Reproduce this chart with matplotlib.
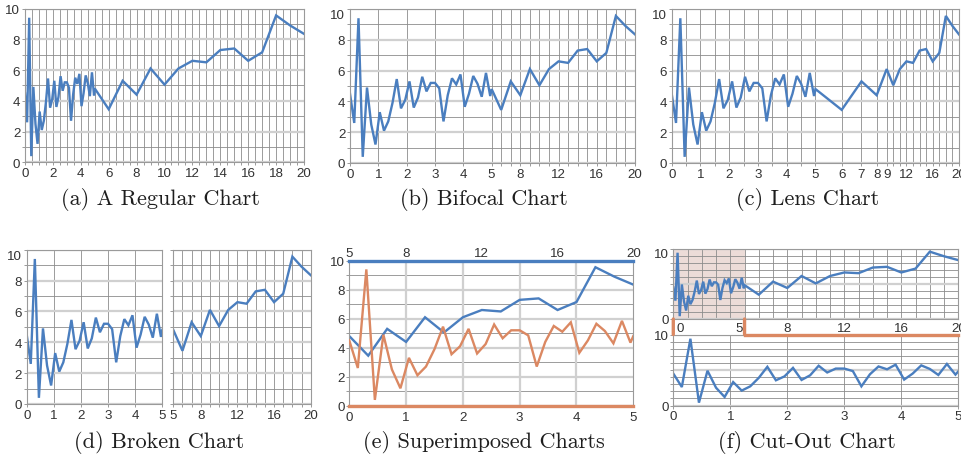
import numpy as np
import matplotlib
matplotlib.use('Agg')
import matplotlib.pyplot as plt
import matplotlib.transforms as mtransforms
from matplotlib.patches import ConnectionPatch
from matplotlib.lines import Line2D

plt.rcParams['font.family'] = ['Liberation Sans', 'DejaVu Sans']

# ---------------- data ----------------
fine_x = [0.0, 0.15, 0.3, 0.45, 0.6, 0.75, 0.9, 1.05, 1.2, 1.35, 1.5, 1.65, 1.8, 1.95,
          2.1, 2.25, 2.4, 2.55, 2.7, 2.85, 3.0, 3.15, 3.3, 3.45, 3.6, 3.75, 3.9, 4.05,
          4.2, 4.35, 4.5, 4.65, 4.8, 4.95]
fine_y = [4.5, 2.6, 9.4, 0.4, 4.9, 2.5, 1.2, 3.3, 2.1, 2.7, 3.9, 5.45, 3.55, 4.1,
          5.3, 3.6, 4.25, 5.6, 4.65, 5.2, 5.2, 4.85, 2.7, 4.4, 5.5, 5.1, 5.75, 3.65,
          4.5, 5.65, 5.15, 4.3, 5.85, 4.35]
coarse_x = [5, 6, 7, 8, 9, 10, 11, 12, 13, 14, 15, 16, 17, 18, 19, 20]
coarse_y = [4.8, 3.45, 5.3, 4.4, 6.1, 5.05, 6.1, 6.6, 6.5, 7.3, 7.4, 6.6, 7.15, 9.55, 8.9, 8.35]

all_x = fine_x + coarse_x
all_y = fine_y + coarse_y
near_x = fine_x + coarse_x[:1]
near_y = fine_y + coarse_y[:1]

y_major = [0, 2, 4, 6, 8, 10]
y_minor = [1, 3, 5, 7, 9]

captions = ['(a) A Regular Chart', '(b) Bifocal Chart', '(c) Lens Chart',
            '(d) Broken Chart', '(e) Superimposed Charts', '(f) Cut-Out Chart']

# scale anchors (distortion functions)
bif_data = [0, 5, 20]
bif_frac = [0, 0.497, 1]
lens_data = [0, 5, 6, 7, 8, 9, 10, 20]
lens_frac = [0, 0.5005, 0.5917, 0.6606, 0.7135, 0.7483, 0.7713, 1.0]

# ---------------- style ----------------
W, H = 962, 460
fig = plt.figure(figsize=(W / 100, H / 100), dpi=100)
fig.patch.set_facecolor('white')

BLUE = '#4a7ebf'
ORANGE = '#db8862'
PINK = '#ecdcd8'
DARK = '#8c8c8c'
LIGHT = '#d0d0d0'
SPINE = '#9a9a9a'
TXT = '#333333'
LW = 1.7
FS = 9.6


def rect(l, t, r, b):
    return [l / W, 1 - b / H, (r - l) / W, (b - t) / H]


def base(ax, ymaj=y_major, ymin=y_minor, ylabels=True, ylabel_list=None):
    ax.set_ylim(0, 10)
    for s in ax.spines.values():
        s.set_color(SPINE)
        s.set_linewidth(0.8)
    ax.tick_params(which='both', direction='out', length=2.4, width=0.6,
                   color='#8a8a8a', labelsize=FS, labelcolor=TXT, pad=1.0)
    ax.set_axisbelow(True)
    if ylabels:
        labs = ylabel_list if ylabel_list is not None else [str(v) for v in ymaj]
        ax.set_yticks(ymaj, labels=labs)
    else:
        ax.set_yticks(ymaj, labels=[''] * len(ymaj))
    ax.set_yticks(ymin, minor=True)
    ax.yaxis.grid(True, which='major', color=LIGHT, lw=1.6)
    ax.yaxis.grid(True, which='minor', color=DARK, lw=0.6)


def xgrid(ax, major, minor, labels=None):
    labs = labels if labels is not None else [str(v) for v in major]
    ax.set_xticks(major, labels=labs)
    ax.set_xticks(minor, minor=True)
    ax.xaxis.grid(True, which='both', color=DARK, lw=0.6)


def piecewise(ax, d, f):
    d = np.asarray(d, float)
    f = np.asarray(f, float)
    ax.set_xscale('function', functions=(lambda x: np.interp(x, d, f),
                                         lambda y: np.interp(y, f, d)))


def shift_top_label(ax):
    ax.yaxis.get_major_ticks()[-1].label1.set_verticalalignment('top')


def caption(x, y, s):
    fig.text(x / W, 1 - y / H, s, ha='center', va='center', family='cmr10',
             fontsize=16, color='#1e1e1e')


def half_minor(lo, hi, exclude):
    return [v for v in np.arange(lo, hi + 0.01, 0.5) if not any(abs(v - e) < 1e-6 for e in exclude)]


# (a) regular
ax = fig.add_axes(rect(25, 9.5, 304, 163.3))
base(ax)
ax.set_xlim(0, 20)
maj = list(range(0, 21, 2))
xgrid(ax, maj, half_minor(0, 20, maj))
ax.plot(all_x, all_y, color=BLUE, lw=LW, solid_joinstyle='miter')
caption(160, 200, captions[0])

# (b) bifocal
ax = fig.add_axes(rect(350, 10, 635, 164))
base(ax)
piecewise(ax, bif_data, bif_frac)
ax.set_xlim(0, 20)
maj = [0, 1, 2, 3, 4, 5, 8, 12, 16, 20]
xgrid(ax, maj, [v for v in range(6, 20) if v not in maj])
ax.plot(all_x, all_y, color=BLUE, lw=LW, solid_joinstyle='miter')
shift_top_label(ax)
caption(484, 200, captions[1])

# (c) lens
ax = fig.add_axes(rect(671.7, 10, 959, 164))
base(ax)
piecewise(ax, lens_data, lens_frac)
ax.set_xlim(0, 20)
maj = [0, 1, 2, 3, 4, 5, 6, 7, 8, 9, 12, 16, 20]
mn = half_minor(0, 5, maj) + [v for v in range(10, 20) if v not in maj]
xgrid(ax, maj, mn)
ax.plot(all_x, all_y, color=BLUE, lw=LW, solid_joinstyle='miter')
shift_top_label(ax)
caption(808, 200, captions[2])

# (d) broken
ax = fig.add_axes(rect(26.7, 250.7, 162.3, 405))
base(ax)
ax.set_xlim(0, 5)
xgrid(ax, [0, 1, 2, 3, 4, 5], [])
ax.plot(near_x, near_y, color=BLUE, lw=LW, solid_joinstyle='miter')
shift_top_label(ax)
ax = fig.add_axes(rect(173.3, 250.7, 310.7, 405))
base(ax, ylabels=False)
ax.set_xlim(5, 20)
maj = [5, 8, 12, 16, 20]
xgrid(ax, maj, [v for v in range(5, 21) if v not in maj])
ax.plot(coarse_x, coarse_y, color=BLUE, lw=LW, solid_joinstyle='miter')
caption(159, 443, captions[3])

# (e) superimposed
ax = fig.add_axes(rect(349.3, 261.7, 633.3, 406.7))
base(ax)
ax.set_xlim(5, 20)
ax.plot(coarse_x, coarse_y, color=BLUE, lw=LW, solid_joinstyle='miter')
tw = ax.twiny()
ax.xaxis.tick_top()
ax.set_xticks([5, 8, 12, 16, 20], labels=['5', '8', '12', '16', '20'])
ax.set_xticks([], minor=True)
ax.tick_params(axis='x', which='both', length=0, pad=1.5, labeltop=True, labelbottom=False)
ax.spines['top'].set_color(BLUE)
ax.spines['top'].set_linewidth(2.4)
ax.spines['bottom'].set_color(ORANGE)
ax.spines['bottom'].set_linewidth(2.4)
tw.set_xlim(0, 5)
tw.xaxis.tick_bottom()
tw.set_xticks([0, 1, 2, 3, 4, 5], labels=['0', '1', '2', '3', '4', '5'])
tw.tick_params(axis='x', length=0, labelsize=FS, labelcolor=TXT, pad=3.5,
               labelbottom=True, labeltop=False)
for s in tw.spines.values():
    s.set_visible(False)
blend = mtransforms.blended_transform_factory(tw.transData, ax.transAxes)
for v in [1, 2, 3, 4]:
    ax.add_line(Line2D([v, v], [0, 1], transform=blend, color=LIGHT, lw=1.6, zorder=0.6))
tw.plot(near_x, near_y, color=ORANGE, lw=LW, solid_joinstyle='miter')
caption(484, 443, captions[4])

# (f) cut-out
top = fig.add_axes(rect(673.3, 249.5, 958.3, 320))
base(top, ymaj=[0, 5, 10], ymin=[1, 2, 3, 4, 6, 7, 8, 9], ylabel_list=['0', '', '10'])
top.set_xlim(0, 20)
top.set_xticks([0, 5, 8, 12, 16, 20], labels=['0', '5', '8', '12', '16', '20'])
top.set_xticks([v for v in range(1, 20) if v not in (5, 8, 12, 16)], minor=True)
top.xaxis.grid(True, which='both', color=DARK, lw=0.6)
top.tick_params(axis='x', which='both', length=0, pad=2.5)
top.axvspan(0, 5, color=PINK, zorder=0.5, lw=0)
top.plot(all_x, all_y, color=BLUE, lw=LW, solid_joinstyle='miter')
xt = top.xaxis.get_major_ticks()
xt[0].label1.set_horizontalalignment('left')
xt[0].label1.set_transform(xt[0].label1.get_transform() + mtransforms.ScaledTranslation(3 / 100, 0, fig.dpi_scale_trans))
xt[1].label1.set_horizontalalignment('right')
xt[1].label1.set_transform(xt[1].label1.get_transform() + mtransforms.ScaledTranslation(-2 / 100, 0, fig.dpi_scale_trans))
shift_top_label(top)

bot = fig.add_axes(rect(673.3, 335.5, 958.3, 406.5))
base(bot, ymaj=[0, 5, 10], ymin=[1, 2, 3, 4, 6, 7, 8, 9], ylabel_list=['0', '', '10'])
bot.set_xlim(0, 5)
xgrid(bot, [0, 1, 2, 3, 4, 5], [])
bot.plot(near_x, near_y, color=BLUE, lw=LW, solid_joinstyle='miter')

mix = mtransforms.blended_transform_factory(top.transData, bot.transAxes)
for v in (0, 5):
    cp = ConnectionPatch(xyA=(v, 0), coordsA=top.get_xaxis_transform(),
                         xyB=(v, 1), coordsB=mix, color=ORANGE, lw=2.4)
    fig.add_artist(cp)
fig.add_artist(Line2D([5, 20], [1, 1], transform=mix, color=ORANGE, lw=2.4,
                      solid_capstyle='projecting'))
caption(807, 443, captions[5])

fig.savefig('out.png', dpi=100, facecolor='white')
